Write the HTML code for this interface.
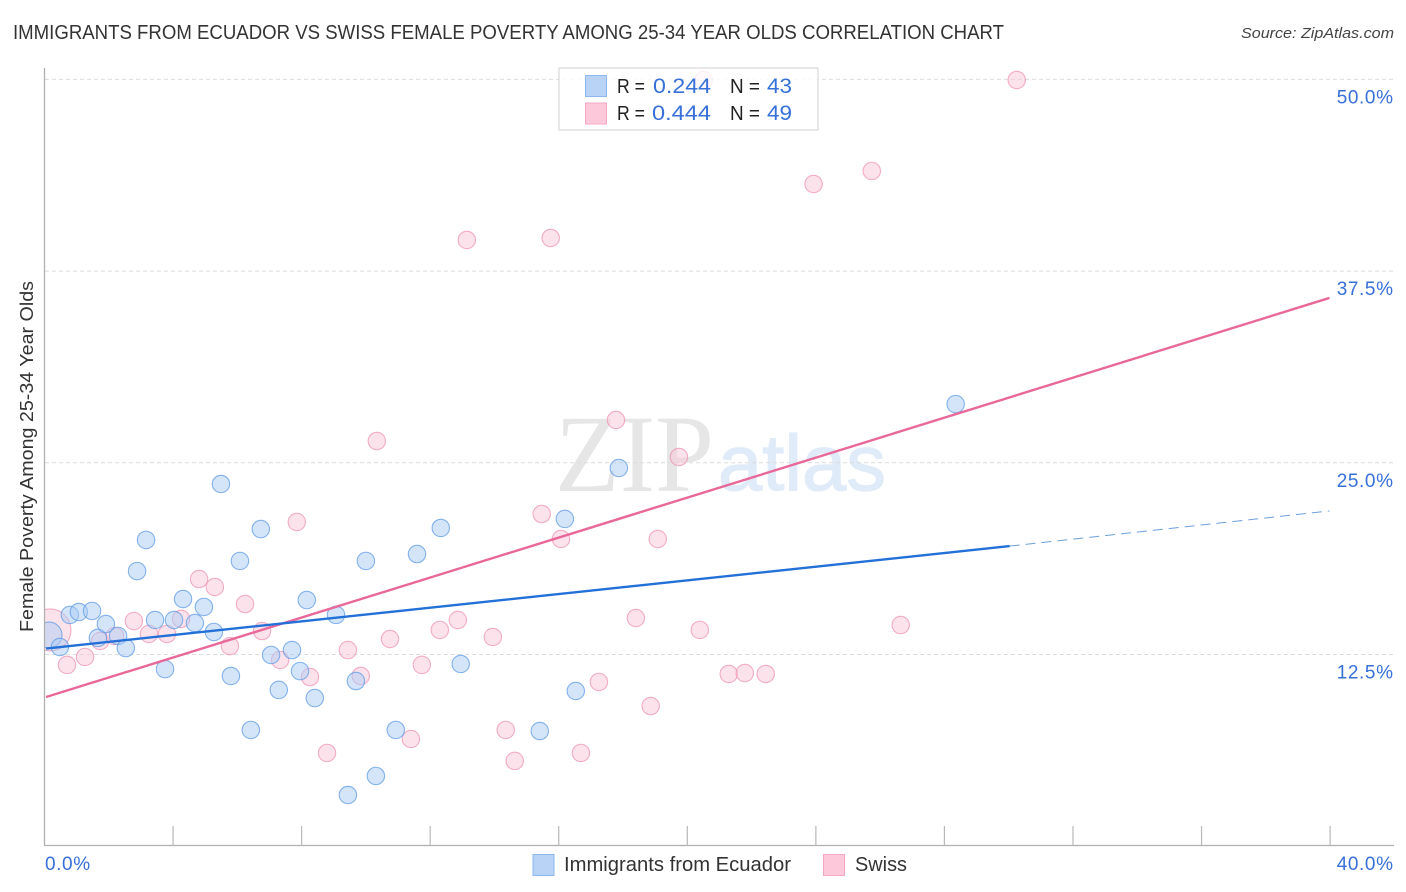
<!DOCTYPE html>
<html lang="en">
<head>
<meta charset="utf-8">
<title>Immigrants from Ecuador vs Swiss Female Poverty Correlation Chart</title>
<style>
html,body{margin:0;padding:0;background:#fff;width:1406px;height:892px;overflow:hidden}
svg{display:block}
text{font-family:"Liberation Sans",sans-serif}
</style>
</head>
<body>
<svg id="chart" xmlns="http://www.w3.org/2000/svg" width="1406" height="892" viewBox="0 0 1406 892">
  <rect x="0" y="0" width="1406" height="892" fill="#fff"/>
  <g>
    <text x="555" y="491" font-size="110" fill="#e6e6e6" textLength="159" lengthAdjust="spacingAndGlyphs" style="font-family:'Liberation Serif',serif">ZIP</text>
    <text x="718" y="490" font-size="79" fill="#e0ebf9" stroke="#e0ebf9" stroke-width="1.2" textLength="168" lengthAdjust="spacingAndGlyphs">atlas</text>
  </g>
  <g id="grid"></g>
  <g id="points"></g>
  <g id="trends"></g>
  <rect x="0" y="60" width="44.5" height="800" fill="#fff"/>
  <g id="axes"></g>
  <text x="13" y="39" font-size="20" fill="#333" textLength="991" lengthAdjust="spacingAndGlyphs">IMMIGRANTS FROM ECUADOR VS SWISS FEMALE POVERTY AMONG 25-34 YEAR OLDS CORRELATION CHART</text>
  <text x="1394" y="38" font-size="15" font-style="italic" fill="#444" text-anchor="end" textLength="153" lengthAdjust="spacingAndGlyphs">Source: ZipAtlas.com</text>
  <text transform="translate(33,456.5) rotate(-90)" font-size="18.5" fill="#333" text-anchor="middle" textLength="351" lengthAdjust="spacingAndGlyphs">Female Poverty Among 25-34 Year Olds</text>
  <g>
    <rect x="559" y="68" width="259" height="62" fill="#fff" fill-opacity="0.8" stroke="#d9d9d9" stroke-width="1.2"/>
    <rect x="585.5" y="75.5" width="21" height="21" fill="#b8d3f6" stroke="#8cb8ee" stroke-width="1"/>
    <rect x="585.5" y="103" width="21" height="21" fill="#fdc8da" stroke="#f6a8c2" stroke-width="1"/>
    <text x="617" y="93" font-size="20" fill="#222" textLength="28" lengthAdjust="spacingAndGlyphs">R =</text>
    <text x="653" y="93" font-size="21.5" fill="#3670d8" textLength="58" lengthAdjust="spacingAndGlyphs">0.244</text>
    <text x="730" y="93" font-size="20" fill="#222" textLength="30" lengthAdjust="spacingAndGlyphs">N =</text>
    <text x="767" y="93" font-size="21.5" fill="#3670d8" textLength="25" lengthAdjust="spacingAndGlyphs">43</text>
    <text x="617" y="120" font-size="20" fill="#222" textLength="28" lengthAdjust="spacingAndGlyphs">R =</text>
    <text x="652" y="120" font-size="21.5" fill="#3670d8" textLength="59" lengthAdjust="spacingAndGlyphs">0.444</text>
    <text x="730" y="120" font-size="20" fill="#222" textLength="30" lengthAdjust="spacingAndGlyphs">N =</text>
    <text x="767" y="120" font-size="21.5" fill="#3670d8" textLength="25" lengthAdjust="spacingAndGlyphs">49</text>
  </g>
  <g>
    <rect x="533" y="854.5" width="21" height="21" fill="#b8d3f6" stroke="#8cb8ee" stroke-width="1"/>
    <text x="564" y="871" font-size="20" fill="#333" textLength="227" lengthAdjust="spacingAndGlyphs">Immigrants from Ecuador</text>
    <rect x="823.5" y="854.5" width="21" height="21" fill="#fdc8da" stroke="#f6a8c2" stroke-width="1"/>
    <text x="855" y="871" font-size="20" fill="#333" textLength="52" lengthAdjust="spacingAndGlyphs">Swiss</text>
  </g>
</svg>
<script>
const ecuadorX = [0.14,0.48,0.79,1.07,1.48,1.66,1.91,2.29,2.53,3.44,2.88,3.16,3.75,4.03,4.31,4.68,4.96,5.27,5.49,5.80,6.08,6.42,6.73,7.05,7.29,7.70,7.95,8.16,8.41,9.07,9.44,9.69,10.00,10.31,10.93,11.59,12.33,12.95,15.41,16.19,16.53,17.87,28.35];
const ecuadorY = [13.77,12.99,15.08,15.27,15.34,13.58,14.49,13.71,12.92,14.75,17.94,19.97,11.55,14.75,16.12,14.55,15.60,13.97,23.62,11.10,18.60,7.58,20.68,12.47,10.19,12.79,11.42,16.05,9.66,15.08,3.34,10.77,18.60,4.58,7.58,19.05,20.75,11.88,7.51,21.34,10.12,24.66,28.83];
const swissX = [0.17,0.70,1.26,1.73,2.19,2.78,3.25,3.81,4.25,4.81,5.30,5.77,6.24,6.77,7.33,7.85,8.26,8.79,9.44,9.84,10.34,10.75,11.40,11.74,12.30,12.86,13.14,13.95,14.35,14.63,15.47,15.75,16.07,16.69,17.25,17.78,18.40,18.86,19.08,19.74,20.39,20.51,21.29,21.79,22.44,23.93,25.74,26.64,30.25];
const swissY = [14.10,11.82,12.34,13.38,13.71,14.68,13.84,13.84,14.82,17.42,16.90,13.05,15.79,14.03,12.14,21.14,11.03,6.08,12.79,11.10,26.42,13.51,6.99,11.82,14.10,14.75,39.53,13.64,7.58,5.56,21.66,39.66,20.03,6.08,10.71,27.79,14.88,9.14,20.03,25.38,14.10,49.96,11.23,11.29,11.23,43.18,44.03,14.42,49.96];
const ecuadorTrendX = [0.05,30.03];
const ecuadorTrendY = [12.89,19.57];
const ecuadorForecastX = [30.03,39.98];
const ecuadorForecastY = [19.57,21.86];
const swissTrendX = [0.05,39.98];
const swissTrendY = [9.73,35.75];
const yTicks = [12.5,25,37.5,50];
const yTickLabels = ["12.5%","25.0%","37.5%","50.0%"];
const xTicks = [0,4,8,12,16,20,24,28,32,36,40];
const xEndTicks = [0,40];
const xEndLabels = ["0.0%","40.0%"];

const NS = "http://www.w3.org/2000/svg";
const xScale = function (v) { return 44.5 + v * 32.14; };
const yScale = function (v) { return 846.2 - v * 15.336; };
const gridG = document.getElementById("grid");
const axesG = document.getElementById("axes");
const pointsG = document.getElementById("points");
const trendsG = document.getElementById("trends");

function setAll(el, attrs) {
  Object.keys(attrs).forEach(function (k) { el.setAttribute(k, attrs[k]); });
  return el;
}
function svgEl(tag, attrs) {
  return setAll(document.createElementNS(NS, tag), attrs);
}

yTicks.forEach(function (t, i) {
  const line = svgEl("line", {x1: 45, x2: 1394, y1: yScale(t), y2: yScale(t), stroke: "#dcdcdc", "stroke-width": 1, "stroke-dasharray": "4 3"});
  
  
  gridG.appendChild(line);
  const label = svgEl("text", {x: 1393.6, y: yScale(t) + 24, "font-size": 19, fill: "#3670d8", "text-anchor": "end", "letter-spacing": 0.6});
  
  
  label.textContent = yTickLabels[i];
  axesG.appendChild(label);
});

const yAxis = svgEl("line", {x1: 44.5, x2: 44.5, y1: 68, y2: 846, stroke: "#b0b0b0", "stroke-width": 1.3});


axesG.appendChild(yAxis);
const xAxis = svgEl("line", {x1: 44, x2: 1394, y1: 845.5, y2: 845.5, stroke: "#b0b0b0", "stroke-width": 1.3});


axesG.appendChild(xAxis);

xTicks.forEach(function (t) {
  if (t === 0) return;
  const tick = svgEl("line", {x1: xScale(t), x2: xScale(t), y1: 826, y2: 845.5, stroke: "#b8b8b8", "stroke-width": 1.2});
  
  
  axesG.appendChild(tick);
});

xEndTicks.forEach(function (t, i) {
  const label = svgEl("text", {x: i === 0 ? 45 : 1393.6, y: 870, "font-size": 19, fill: "#3670d8", "text-anchor": i === 0 ? "start" : "end", "letter-spacing": 0.6});
  
  
  label.textContent = xEndLabels[i];
  axesG.appendChild(label);
});

function drawEcuador() {
  ecuadorX.forEach(function (x, i) {
    const c = svgEl("circle", {cx: xScale(x), cy: yScale(ecuadorY[i]), r: i === 0 ? 13 : 8.7, fill: "#a9cbf5", "fill-opacity": 0.5, stroke: "#5f9be6", "stroke-opacity": 0.75, "stroke-width": 1.1});
    
    
    pointsG.appendChild(c);
  });
}
function drawSwiss() {
  swissX.forEach(function (x, i) {
    const c = svgEl("circle", {cx: xScale(x), cy: yScale(swissY[i]), r: i === 0 ? 21 : 8.7, fill: "#fac5d7", "fill-opacity": 0.5, stroke: "#ee8fb0", "stroke-opacity": 0.7, "stroke-width": 1.1});
    
    
    pointsG.appendChild(c);
  });
}
drawSwiss();
drawEcuador();

const swissLine = svgEl("line", {x1: xScale(swissTrendX[0]), y1: yScale(swissTrendY[0]), x2: xScale(swissTrendX[1]), y2: yScale(swissTrendY[1]), stroke: "#e8689a", "stroke-width": 2.4});


trendsG.appendChild(swissLine);

const ecuadorLine = svgEl("line", {x1: xScale(ecuadorTrendX[0]), y1: yScale(ecuadorTrendY[0]), x2: xScale(ecuadorTrendX[1]), y2: yScale(ecuadorTrendY[1]), stroke: "#2270d8", "stroke-width": 2.4});


trendsG.appendChild(ecuadorLine);

const ecuadorDash = svgEl("line", {x1: xScale(ecuadorForecastX[0]), y1: yScale(ecuadorForecastY[0]), x2: xScale(ecuadorForecastX[1]), y2: yScale(ecuadorForecastY[1]), stroke: "#6f9fdc", "stroke-width": 1, "stroke-dasharray": "10 6"});


trendsG.appendChild(ecuadorDash);
</script>
</body>
</html>
